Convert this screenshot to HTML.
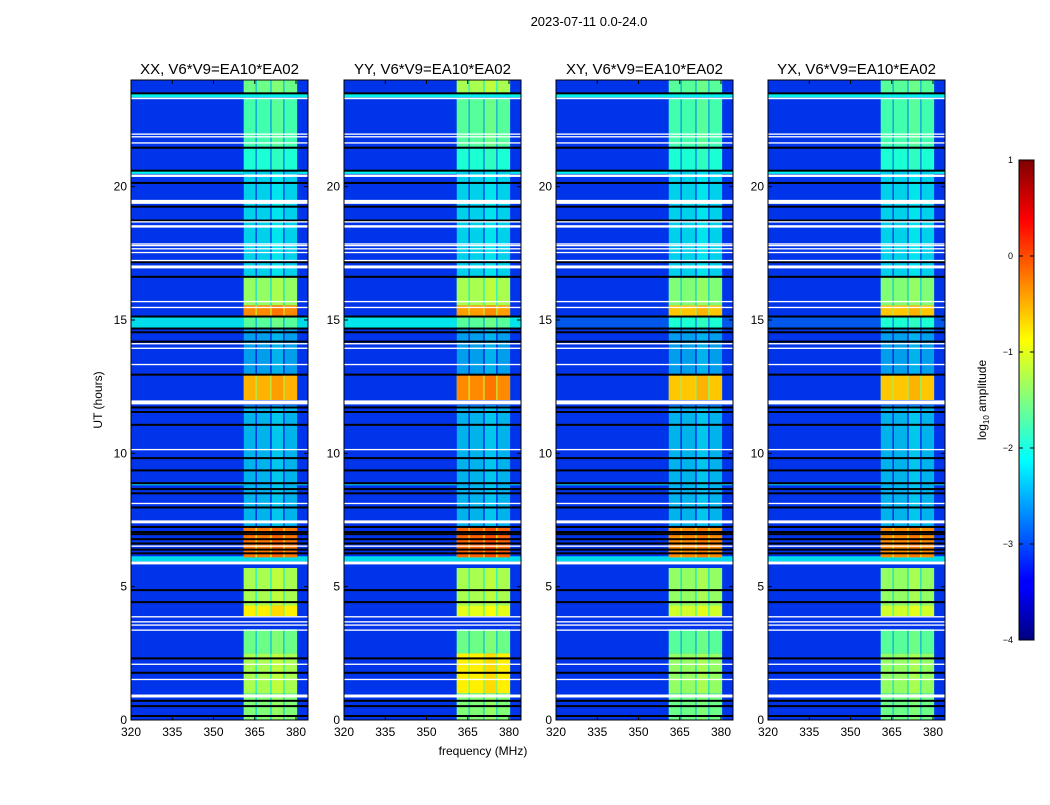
<!DOCTYPE html>
<html><head><meta charset="utf-8">
<style>
body{margin:0;background:#fff;width:1050px;height:800px;overflow:hidden;font-family:"Liberation Sans",sans-serif;}
svg text{font-family:"Liberation Sans",sans-serif;}
</style></head>
<body>
<svg id="fig" width="1050" height="800" viewBox="0 0 1050 800" xmlns="http://www.w3.org/2000/svg">
<defs>
<linearGradient id="jet" x1="0" y1="1" x2="0" y2="0">
<stop offset="0" stop-color="#00007f"/><stop offset="0.11" stop-color="#0000ff"/><stop offset="0.125" stop-color="#0000ff"/>
<stop offset="0.375" stop-color="#00ffff"/><stop offset="0.625" stop-color="#ffff00"/><stop offset="0.875" stop-color="#ff0000"/><stop offset="1" stop-color="#7f0000"/>
</linearGradient>
</defs>
<text x="589" y="26" font-size="13" text-anchor="middle">2023-07-11 0.0-24.0</text>
<text transform="translate(102,400) rotate(-90)" font-size="12" text-anchor="middle">UT (hours)</text>
<text x="483" y="755" font-size="12" text-anchor="middle">frequency (MHz)</text>
<g id="panels"></g>
<g id="cbar">
<rect x="1019" y="160" width="15" height="480" fill="url(#jet)" stroke="#000" stroke-width="1"/>
</g>
<text transform="translate(986,400) rotate(-90)" font-size="12" text-anchor="middle">log<tspan font-size="8" dy="3">10</tspan><tspan dy="-3"> amplitude</tspan></text>
</svg>
<script>
const NS="http://www.w3.org/2000/svg";
const panelTitles=["XX, V6*V9=EA10*EA02","YY, V6*V9=EA10*EA02","XY, V6*V9=EA10*EA02","YX, V6*V9=EA10*EA02"];
const panelLefts=[131,344,556,768];
const xTicks=[320,335,350,365,380];
const yTicks=[0,5,10,15,20];
const cbTicks=[1,0,-1,-2,-3,-4];
const baseLevel=-3.12;
const rfiCols=[[361,365.3],[365.7,370.7],[371.1,375.4],[375.8,380.4]];
const rfiSegs=[[23.5,24],[21.5,23.3],[20.6,21.5],[16.6,20.6],[15.55,16.6],[15.1,15.55],[14.7,15.1],[12.95,14.7],[12.0,12.95],[7.2,11.8],[6.1,7.2],[4.3,5.7],[3.9,4.3],[2.5,3.4],[1.0,2.5],[0,1.0]];
const rfiXX=[-1.6,-1.8,-2.0,-2.35,-1.4,-0.3,-1.7,-2.6,-0.5,-2.5,-0.2,-1.3,-0.8,-1.6,-1.3,-1.5];
const rfiYY=[-1.3,-1.7,-2.0,-2.35,-1.3,-0.4,-1.7,-2.6,-0.3,-2.5,-0.1,-1.3,-1.0,-1.6,-0.8,-1.5];
const rfiXY=[-1.7,-1.8,-2.0,-2.35,-1.5,-0.6,-2.0,-2.6,-0.6,-2.5,-0.3,-1.4,-1.1,-1.7,-1.4,-1.6];
const rfiYX=[-1.7,-1.8,-2.0,-2.35,-1.5,-0.6,-2.0,-2.6,-0.6,-2.5,-0.3,-1.4,-1.1,-1.7,-1.4,-1.6];
const rfiLevels=[rfiXX,rfiYY,rfiXY,rfiYX];
const bgBands=[[23.35,23.5],[20.48,20.6],[14.68,15.1],[8.8,8.88],[5.95,6.14]];
const bgXX=[-2.2,-2.2,-2.3,-2.4,-2.3];
const bgYY=[-2.2,-2.2,-2.25,-2.4,-2.3];
const bgXY=[-2.2,-2.2,-2.95,-2.4,-2.3];
const bgYX=[-2.2,-2.2,-2.95,-2.4,-2.3];
const bgLevels=[bgXX,bgYY,bgXY,bgYX];
const whiteT=[23.31,21.97,21.87,21.64,20.41,19.43,18.68,18.51,17.85,17.79,17.67,17.53,17.23,16.99,15.69,15.47,14.11,13.94,13.33,11.91,10.14,8.12,7.43,6.52,5.89,3.87,3.68,3.56,3.37,2.09,1.52,0.9];
const whiteW=[0.06,0.05,0.05,0.05,0.09,0.15,0.05,0.09,0.05,0.05,0.05,0.05,0.05,0.11,0.05,0.05,0.05,0.05,0.05,0.15,0.05,0.05,0.11,0.05,0.11,0.05,0.05,0.05,0.05,0.05,0.05,0.11];
const blackT=[23.5,21.46,20.6,20.14,19.25,18.73,17.17,16.62,15.13,14.68,14.54,14.19,12.95,11.72,11.55,11.07,9.82,9.36,8.88,8.66,8.5,7.97,7.24,7.05,6.97,6.78,6.62,6.39,6.25,4.87,4.42,2.31,1.77,0.72,0.52,0.15];

const TOP=80,BOT=720,PW=177;
const yS=t=>BOT-t*(BOT-TOP)/24;
const xS=(L,f)=>L+(f-320)*2.75;
function jet(v){let x=(v+4)/5;x=Math.max(0,Math.min(1,x));
 const c=a=>Math.round(255*Math.max(0,Math.min(1,1.5-Math.abs(4*x-a))));
 return `rgb(${c(3)},${c(2)},${Math.round(c(1)*0.92)})`;}
function mk(tag,attrs,parent){const e=document.createElementNS(NS,tag);for(const k in attrs)e.setAttribute(k,attrs[k]);parent.appendChild(e);return e;}
const root=document.getElementById('panels');
panelTitles.forEach((title,p)=>{
 const L=panelLefts[p];
 const g=mk('g',{},root);
 
 
 const tt=mk('text',{x:L+PW/2,y:74,'font-size':15,'text-anchor':'middle'},g);tt.textContent=title;
 
 
 const bg=mk('rect',{x:L,y:TOP,width:PW,height:BOT-TOP,fill:jet(baseLevel)},g);
 
 
 bgBands.forEach((b,i)=>{
  const r=mk('rect',{x:L,y:yS(b[1]),width:PW,height:yS(b[0])-yS(b[1]),fill:jet(bgLevels[p][i])},g);
  
  
 });
 rfiSegs.forEach((s,i)=>{
  const gap=mk('rect',{x:xS(L,rfiCols[0][0]),y:yS(s[1]),width:xS(L,rfiCols[3][1])-xS(L,rfiCols[0][0]),height:yS(s[0])-yS(s[1]),fill:jet(rfiLevels[p][i]-0.9)},g);
  
  
  rfiCols.forEach((c,j)=>{
   const r=mk('rect',{x:xS(L,c[0]),y:yS(s[1]),width:xS(L,c[1])-xS(L,c[0]),height:yS(s[0])-yS(s[1]),fill:jet(rfiLevels[p][i]+(j===2?0.1:0))},g);
   
   
  });
 });
 blackT.forEach(t=>{
  const r=mk('rect',{x:L,y:yS(t)-1,width:PW,height:2,fill:'#000'},g);
  
  
 });
 whiteT.forEach((t,i)=>{
  const h=whiteW[i]*(BOT-TOP)/24;
  const r=mk('rect',{x:L,y:yS(t)-h/2,width:PW,height:h,fill:'#fff'},g);
  
  
 });
 const fr=mk('rect',{x:L,y:TOP,width:PW,height:BOT-TOP,fill:'none',stroke:'#000','stroke-width':1},g);
 
 
 xTicks.forEach(v=>{
  const x=xS(L,v);
  mk('line',{x1:x,x2:x,y1:BOT,y2:BOT-4,stroke:'#000'},g);
  mk('line',{x1:x,x2:x,y1:TOP,y2:TOP+4,stroke:'#000'},g);
  const t=mk('text',{x:x,y:BOT+16,'font-size':12,'text-anchor':'middle'},g);t.textContent=v;
  
  
 });
 yTicks.forEach(v=>{
  const y=yS(v);
  mk('line',{x1:L,x2:L+4,y1:y,y2:y,stroke:'#000'},g);
  mk('line',{x1:L+PW,x2:L+PW-4,y1:y,y2:y,stroke:'#000'},g);
  const t=mk('text',{x:L-4,y:y+4,'font-size':12,'text-anchor':'end'},g);t.textContent=v;
  
  
 });
});
const cb=document.getElementById('cbar');
cbTicks.forEach(v=>{
 const y=160+(1-v)*96;
 mk('line',{x1:1019,x2:1023,y1:y,y2:y,stroke:'#000'},cb);
 mk('line',{x1:1034,x2:1030,y1:y,y2:y,stroke:'#000'},cb);
 const t=mk('text',{x:1013,y:y+3,'font-size':9,'text-anchor':'end'},cb);t.textContent=(v<0?'\u2212'+(-v):v);
 
 
});
</script>
</body></html>
